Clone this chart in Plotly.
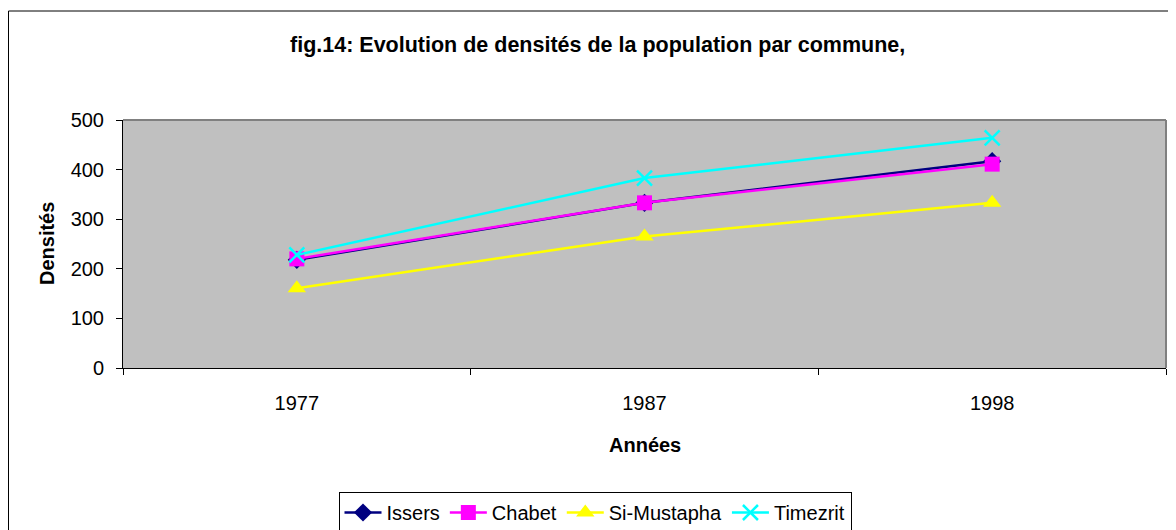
import plotly.graph_objects as go

years = ["1977", "1987", "1998"]
issers = [218, 333, 417]
chabet = [220, 333, 411]
si_mustapha = [161, 265, 333]
timezrit = [228, 383, 464]

series = [
    ("Issers", issers, "#000080", "diamond", 14),
    ("Chabet", chabet, "#FF00FF", "square", 15),
    ("Si-Mustapha", si_mustapha, "#FFFF00", "triangle-up", 16),
    ("Timezrit", timezrit, "#00FFFF", "x-thin-open", 15),
]

# page body has an 8px margin: figure origin sits at screen (8, 8)
OFF = 8
W, H = 1176 - OFF, 570 - OFF   # taller than the window so the legend never pushes margins
L, R, T, B = 123, 1166, 120, 368          # plot area in screen pixels
pw, ph = R - L, B - T

def px(x):
    return (x - L) / pw

def py(y):
    return (B - y) / ph

fig = go.Figure()
for name, vals, color, sym, size in series:
    mk = dict(symbol=sym, size=size, color=color)
    if sym.endswith("open"):
        mk["line"] = dict(color=color, width=2.5)
    fig.add_trace(go.Scatter(
        x=years, y=vals, name=name, mode="lines+markers",
        line=dict(color=color, width=2.5), marker=mk,
    ))

font = "Liberation Sans, Arial, sans-serif"
fig.update_layout(
    width=W, height=H,
    margin=dict(l=L - OFF, r=W - (R - OFF), t=T - OFF, b=H - (B - OFF), pad=0),
    paper_bgcolor="white", plot_bgcolor="#C0C0C0",
    font=dict(family=font, size=20, color="black"),
    showlegend=True,
    legend=dict(orientation="h", x=px(595), xanchor="center", y=py(492), yanchor="top",
                bordercolor="black", borderwidth=1, bgcolor="white",
                font=dict(size=20), itemwidth=37, tracegroupgap=0),
    xaxis=dict(type="category", range=[-0.5, 2.5], showgrid=False, zeroline=False,
               showline=True, linecolor="black", linewidth=1,
               ticks="outside", tickson="boundaries", ticklen=6, tickcolor="black",
               ticklabelstandoff=17, fixedrange=True),
    yaxis=dict(range=[0, 500], dtick=100, showgrid=False, zeroline=False,
               showline=True, linecolor="black", linewidth=1,
               ticks="outside", ticklen=6, tickcolor="black",
               ticklabelstandoff=8, fixedrange=True),
    shapes=[
        dict(type="rect", xref="paper", yref="paper", x0=px(8.5), x1=px(1200), y0=py(565), y1=py(11),
             line=dict(color="black", width=1), layer="below"),
        dict(type="line", xref="paper", yref="paper", x0=0, x1=1, y0=1, y1=1,
             line=dict(color="#808080", width=2)),
        dict(type="line", xref="paper", yref="paper", x0=1, x1=1, y0=0, y1=1,
             line=dict(color="#808080", width=2)),
    ],
    annotations=[
        dict(text="<b>fig.14: Evolution de densités de la population par commune,</b>",
             xref="paper", yref="paper", x=px(597), y=py(45), showarrow=False,
             xanchor="center", yanchor="middle", font=dict(size=21.5)),
        dict(text="<b>Densités</b>", xref="paper", yref="paper", x=px(47), y=py(244),
             showarrow=False, textangle=-90, xanchor="center", yanchor="middle",
             font=dict(size=20)),
        dict(text="<b>Années</b>", xref="paper", yref="paper", x=px(645), y=py(445),
             showarrow=False, xanchor="center", yanchor="middle", font=dict(size=20)),
    ],
)

fig.write_html("out.html")
